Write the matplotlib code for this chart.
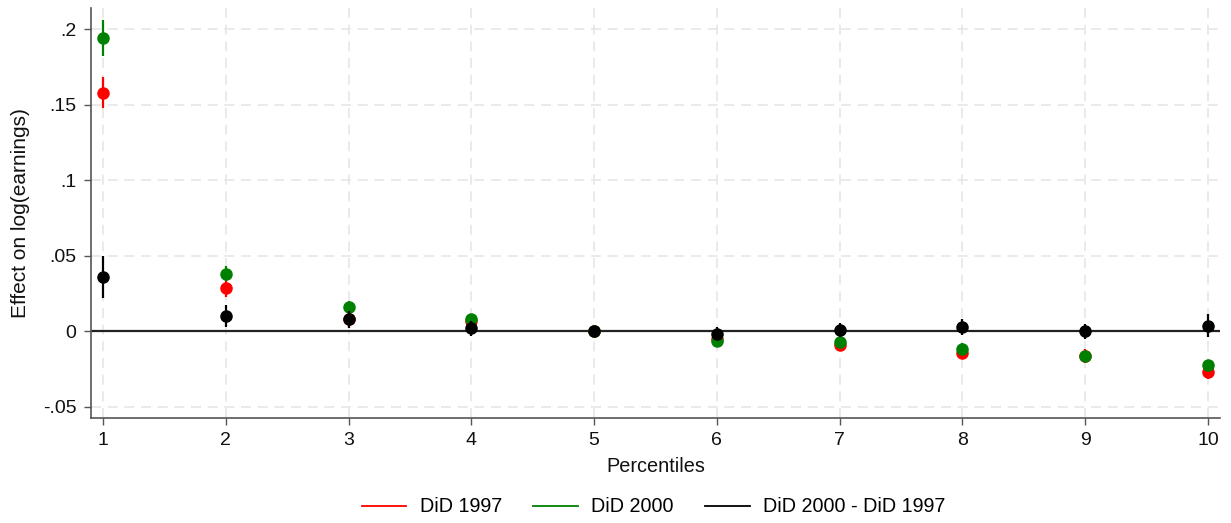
import matplotlib
matplotlib.use("Agg")
import matplotlib.pyplot as plt
from matplotlib.lines import Line2D

plt.rcParams['font.family'] = ['Liberation Sans', 'DejaVu Sans']

percentiles = [1, 2, 3, 4, 5, 6, 7, 8, 9, 10]

did_1997 = [0.158, 0.0285, 0.008, 0.0065, 0.0, -0.005, -0.009, -0.0143, -0.0166, -0.027]
did_1997_lo = [0.148, 0.0225, 0.003, 0.002, 0.0, -0.009, -0.012, -0.018, -0.021, -0.0316]
did_1997_hi = [0.168, 0.034, 0.012, 0.010, 0.0, -0.002, -0.006, -0.011, -0.012, -0.0223]

did_2000 = [0.194, 0.038, 0.016, 0.0082, 0.0, -0.0063, -0.0073, -0.0116, -0.0166, -0.0228]
did_2000_lo = [0.182, 0.033, 0.012, 0.005, 0.0, -0.009, -0.010, -0.015, -0.020, -0.027]
did_2000_hi = [0.206, 0.043, 0.020, 0.011, 0.0, -0.003, -0.004, -0.008, -0.013, -0.019]

did_diff = [0.036, 0.010, 0.008, 0.002, 0.0, -0.0017, 0.0005, 0.0024, 0.0, 0.0035]
did_diff_lo = [0.022, 0.003, 0.002, -0.0035, 0.0, -0.005, -0.004, -0.0027, -0.005, -0.004]
did_diff_hi = [0.050, 0.017, 0.013, 0.0066, 0.0, 0.0027, 0.0055, 0.008, 0.005, 0.011]

yticks = [-0.05, 0, 0.05, 0.1, 0.15, 0.2]
ytick_labels = ["-.05", "0", ".05", ".1", ".15", ".2"]

series = [
    ("DiD 1997", did_1997, did_1997_lo, did_1997_hi, "#ff0000"),
    ("DiD 2000", did_2000, did_2000_lo, did_2000_hi, "#008000"),
    ("DiD 2000 - DiD 1997", did_diff, did_diff_lo, did_diff_hi, "#000000"),
]

fig = plt.figure(figsize=(12.31, 5.23), dpi=100)
ax = fig.add_axes([91 / 1231, 105 / 523, (1220 - 91) / 1231, (418 - 8) / 523])

ax.set_xlim(0.902, 10.098)
ax.set_ylim(-0.0576, 0.214)

# dashed grid at every tick, solid reference line at zero
for x in percentiles:
    ax.axvline(x, color="#e6e6e6", lw=1.2, ls=(0, (6, 4)), zorder=0)
for y in yticks:
    ax.axhline(y, color="#e6e6e6", lw=1.2, ls=(0, (6, 4)), zorder=0)
ax.axhline(0, color="#222222", lw=1.6, zorder=1)

# point estimates with confidence intervals
handles = []
for i, (name, vals, lo, hi, col) in enumerate(series):
    ax.vlines(percentiles, lo, hi, color=col, lw=1.6, zorder=2 + i)
    ax.plot(percentiles, vals, "o", color=col, ms=8, zorder=2 + i)
    handles.append(Line2D([0], [0], color=col, lw=1.3, label=name))

ax.set_xticks(percentiles)
ax.set_xticklabels([str(p) for p in percentiles])
ax.set_yticks(yticks)
ax.set_yticklabels(ytick_labels)
ax.tick_params(axis="both", labelsize=14, length=5, width=1, color="#555555",
               labelcolor="#111111")
ax.tick_params(axis="x", pad=5)
ax.tick_params(axis="y", pad=5.5)

for side in ["top", "right"]:
    ax.spines[side].set_visible(False)
for side in ["left", "bottom"]:
    ax.spines[side].set_color("#555555")
    ax.spines[side].set_linewidth(1.2)

ax.set_xlabel("Percentiles", fontsize=14.3, color="#111111", labelpad=6)
ax.set_ylabel("Effect on log(earnings)", fontsize=15, color="#111111", labelpad=9)

fig.legend(handles=handles, loc="center", bbox_to_anchor=(0.531, 16 / 523),
           ncol=3, frameon=False, fontsize=14.2, handlelength=2.27, columnspacing=1.6,
           handletextpad=0.67)

fig.savefig("out.png", dpi=100, facecolor="white")
